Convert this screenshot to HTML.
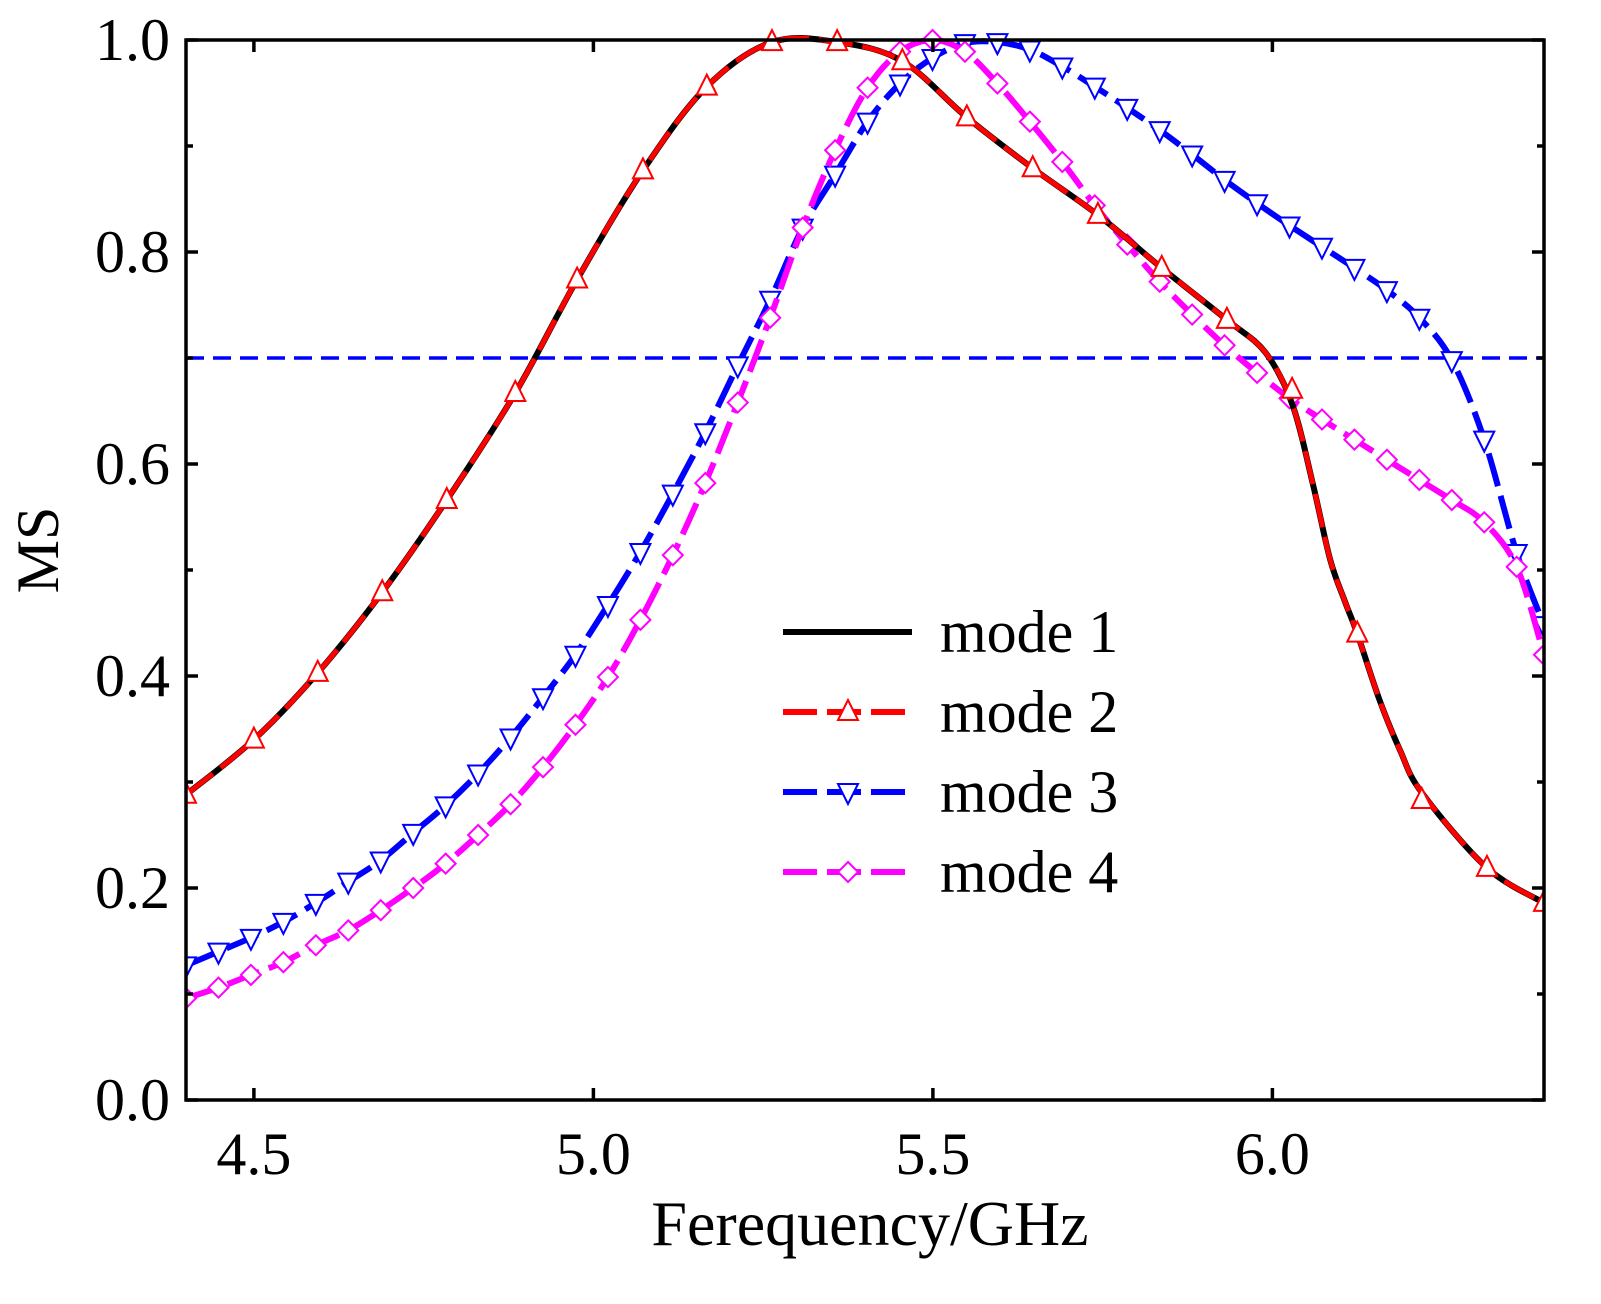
<!DOCTYPE html>
<html><head><meta charset="utf-8"><style>
body{margin:0;background:#fff}
svg text{font-family:"Liberation Serif",serif;fill:#000}
</style></head><body>
<svg id="chart" width="1601" height="1299" viewBox="0 0 1601 1299" xmlns="http://www.w3.org/2000/svg"></svg>
<script>
const xTicks=[4.5,5.0,5.5,6.0];
const xTickLabels=["4.5","5.0","5.5","6.0"];
const yTicks=[0,0.2,0.4,0.6,0.8,1.0];
const yTickLabels=["0.0","0.2","0.4","0.6","0.8","1.0"];
const threshold=0.7;
const m2x=[4.4,4.5,4.594,4.689,4.784,4.885,4.976,5.073,5.167,5.263,5.359,5.455,5.55,5.647,5.743,5.837,5.933,6.029,6.125,6.22,6.316,6.4];
const m2y=[0.288,0.34,0.403,0.479,0.566,0.667,0.774,0.877,0.956,0.998,0.998,0.98,0.927,0.879,0.835,0.785,0.736,0.67,0.44,0.283,0.219,0.186];
const m1x=[4.4,4.5,4.594,4.689,4.784,4.885,4.976,5.073,5.167,5.263,5.359,5.455,5.55,5.647,5.743,5.837,5.933,5.99,6.03,6.06,6.085,6.107,6.125,6.158,6.188,6.22,6.316,6.4];
const m1y=[0.288,0.34,0.403,0.479,0.566,0.667,0.774,0.877,0.956,0.998,0.998,0.98,0.927,0.879,0.835,0.785,0.736,0.705,0.655,0.58,0.51,0.47,0.44,0.377,0.33,0.29,0.219,0.186];
const m3y=[0.127,0.14,0.153,0.168,0.186,0.206,0.226,0.252,0.278,0.308,0.342,0.38,0.42,0.467,0.517,0.572,0.63,0.693,0.755,0.823,0.873,0.923,0.959,0.983,0.997,0.998,0.991,0.975,0.956,0.936,0.915,0.892,0.868,0.846,0.825,0.805,0.785,0.764,0.738,0.698,0.623,0.516,0.448];
const m4y=[0.096,0.106,0.118,0.13,0.146,0.16,0.179,0.2,0.223,0.25,0.279,0.314,0.354,0.399,0.453,0.514,0.582,0.658,0.738,0.823,0.896,0.955,0.989,1.0,0.989,0.959,0.923,0.885,0.844,0.807,0.772,0.741,0.712,0.686,0.662,0.642,0.623,0.604,0.585,0.566,0.545,0.503,0.42];
const m34x=m3y.map((_,i)=>Math.min(6.4,4.4+i*0.0478));

const X0=186,X1=1544,Y0=1100,Y1=40;
const sx=v=>X0+(v-4.4)/(2.0)*(X1-X0);
const sy=v=>Y0-v*(Y0-Y1);
const NS="http://www.w3.org/2000/svg";
const svg=document.getElementById('chart');
function el(t,a,p){const e=document.createElementNS(NS,t);for(const k in a)e.setAttribute(k,a[k]);(p||svg).appendChild(e);return e;}
function smooth(xs,ys){const P=xs.map((x,i)=>[sx(x),sy(ys[i])]);let d=`M${P[0][0]},${P[0][1]}`;
for(let i=0;i<P.length-1;i++){const p0=P[Math.max(0,i-1)],p1=P[i],p2=P[i+1],p3=P[Math.min(P.length-1,i+2)];
d+=` C${p1[0]+(p2[0]-p0[0])/6},${p1[1]+(p2[1]-p0[1])/6} ${p2[0]-(p3[0]-p1[0])/6},${p2[1]-(p3[1]-p1[1])/6} ${p2[0]},${p2[1]}`;}return d;}
const defs=el('defs',{});const cp=el('clipPath',{id:'c'},defs);el('rect',{x:X0,y:Y1-15,width:X1-X0,height:Y0-Y1+15},cp);
const plot=el('g',{'clip-path':'url(#c)'});



const th=el('line',{x1:X0,x2:X1,y1:sy(threshold),y2:sy(threshold),stroke:'#0000ff','stroke-width':3.5,'stroke-dasharray':'18,9'},plot);



function tri(g,x,y,up,color){const s=10;const pts=up?`${x},${y-s-2} ${x-s},${y+s*0.8} ${x+s},${y+s*0.8}`:`${x},${y+s+2} ${x-s},${y-s*0.8} ${x+s},${y-s*0.8}`;return el('polygon',{points:pts,fill:'#fff',stroke:color,'stroke-width':2},g);}
function dia(g,x,y,color){const s=10;return el('polygon',{points:`${x},${y-s} ${x+s},${y} ${x},${y+s} ${x-s},${y}`,fill:'#fff',stroke:color,'stroke-width':2},g);}

const s3=el('path',{d:smooth(m34x,m3y),fill:'none',stroke:'#0000ff','stroke-width':6,'stroke-dasharray':'34,10'},plot);


const g3=el('g',{},plot);


m34x.forEach((x,i)=>tri(g3,sx(x),sy(m3y[i]),false,'#0000ff'));

const s4=el('path',{d:smooth(m34x,m4y),fill:'none',stroke:'#ff00ff','stroke-width':6,'stroke-dasharray':'34,10'},plot);


const g4=el('g',{},plot);


m34x.forEach((x,i)=>dia(g4,sx(x),sy(m4y[i]),'#ff00ff'));

const s1=el('path',{d:smooth(m1x,m1y),fill:'none',stroke:'#000','stroke-width':6},plot);


const s2=el('path',{d:smooth(m1x,m1y),fill:'none',stroke:'#ff0000','stroke-width':5,'stroke-dasharray':'34,10'},plot);


const g2=el('g',{},plot);


m2x.forEach((x,i)=>tri(g2,sx(x),sy(m2y[i]),true,'#ff0000'));

const frame=el('rect',{x:X0,y:Y1,width:X1-X0,height:Y0-Y1,fill:'none',stroke:'#000','stroke-width':3.5});


xTicks.forEach((v,i)=>{const x=sx(v);
el('line',{x1:x,x2:x,y1:Y0,y2:Y0-12,stroke:'#000','stroke-width':3.5});
el('line',{x1:x,x2:x,y1:Y1,y2:Y1+12,stroke:'#000','stroke-width':3.5});
const t=el('text',{x:x,y:1174,'font-size':60,'text-anchor':'middle'});t.textContent=xTickLabels[i];

});
for(let v=0;v<=1.0001;v+=0.1){const y=sy(v);const major=Math.abs(v*10%2)<0.01||Math.abs(v*10%2-2)<0.01;const L=major?12:7;
el('line',{x1:X0,x2:X0+L,y1:y,y2:y,stroke:'#000','stroke-width':3.5});
el('line',{x1:X1,x2:X1-L,y1:y,y2:y,stroke:'#000','stroke-width':3.5});}
yTicks.forEach((v,i)=>{const t=el('text',{x:170,y:sy(v)+20,'font-size':60,'text-anchor':'end'});t.textContent=yTickLabels[i];

});
const xt=el('text',{x:870,y:1245,'font-size':64,'text-anchor':'middle'});xt.textContent='Ferequency/GHz';


const yt=el('text',{x:0,y:0,'font-size':60,'text-anchor':'middle',transform:'translate(58,550) rotate(-90)'});yt.textContent='MS';



const leg=[['mode 1','#000',null,null],['mode 2','#ff0000','up','34,10'],['mode 3','#0000ff','down','34,10'],['mode 4','#ff00ff','dia','34,10']];
const lg=el('g',{});


leg.forEach((l,i)=>{const y=632+i*80;const g=el('g',{},lg);


const a={x1:783,x2:912,y1:y,y2:y,stroke:l[1],'stroke-width':6};if(l[3])a['stroke-dasharray']=l[3];el('line',a,g);
if(l[2]==='up')tri(g,848,y,true,l[1]);else if(l[2]==='down')tri(g,848,y,false,l[1]);else if(l[2]==='dia')dia(g,848,y,l[1]);
const t=el('text',{x:940,y:y+20,'font-size':60},g);t.textContent=l[0];});
</script>
</body></html>
